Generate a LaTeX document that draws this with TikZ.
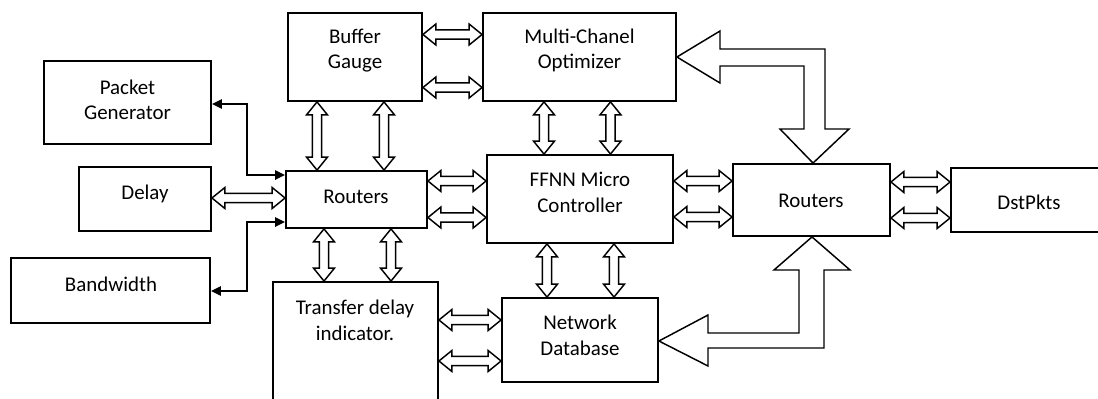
\documentclass[tikz,border=0pt]{standalone}
\usepackage{fontspec}
\setmainfont{Carlito}
\usetikzlibrary{calc,fit,arrows.meta}

% sizes of the hollow two-headed arrows
\newcommand\hdlen{9.75pt}
\newcommand\hdhalf{7.9pt}
\newcommand\shhalf{3.5pt}

\tikzset{
  box/.style={draw, line width=1.4pt, inner sep=0pt},
  lbl/.style={align=center, inner sep=0pt, font=\fontsize{15.7}{19.1}\selectfont},
  hollow/.style={draw, fill=white, line width=1.1pt, line join=miter},
  link/.style={line width=1.5pt,
    {Triangle[length=7.5pt,width=7pt]}-{Triangle[length=7.5pt,width=7pt]}},
}

% hollow block arrow with a head at both ends, from #1 to #2
\newcommand\dblarrow[2]{%
  \path #1 coordinate (da-a) #2 coordinate (da-b);
  \draw[hollow] (da-a)
    -- ($(da-a)!\hdlen!(da-b)!\hdhalf!90:(da-b)$)
    -- ($(da-a)!\hdlen!(da-b)!\shhalf!90:(da-b)$)
    -- ($(da-b)!\hdlen!(da-a)!\shhalf!-90:(da-a)$)
    -- ($(da-b)!\hdlen!(da-a)!\hdhalf!-90:(da-a)$)
    -- (da-b)
    -- ($(da-b)!\hdlen!(da-a)!\hdhalf!90:(da-a)$)
    -- ($(da-b)!\hdlen!(da-a)!\shhalf!90:(da-a)$)
    -- ($(da-a)!\hdlen!(da-b)!\shhalf!-90:(da-b)$)
    -- ($(da-a)!\hdlen!(da-b)!\hdhalf!-90:(da-b)$)
    -- cycle;}

\begin{document}
\begin{tikzpicture}[x=0.75pt, y=-0.75pt]
\useasboundingbox (0,0) rectangle (1098,399);
\clip (0,0) rectangle (1098,399);

% blocks
\node[box, fit={(44,61) (211,144)}]   (pg)   {};
\node[box, fit={(79,167) (211,231)}]  (dl)   {};
\node[box, fit={(11,258) (210,323)}]  (bw)   {};
\node[box, fit={(288,13) (422,101)}]  (bg)   {};
\node[box, fit={(483,13) (676,101)}]  (mco)  {};
\node[box, fit={(286,171) (427,228)}] (rl)   {};
\node[box, fit={(487,155) (673,243)}] (ffnn) {};
\node[box, fit={(733,164) (890,236)}] (rr)   {};
\node[box, fit={(951,168) (1115,232)}] (dst) {};
\node[box, fit={(273,282) (438,420)}] (td)   {};
\node[box, fit={(502,298) (658,382)}] (nd)   {};

% block texts
\node[lbl] (pg-t)   at (127.5,100) {Packet\\Generator};
\node[lbl] (dl-t)   at (145,194)   {Delay};
\node[lbl] (bw-t)   at (111,284)   {Bandwidth};
\node[lbl] (bg-t)   at (355,50.5)  {Buffer\\Gauge};
\node[lbl] (mco-t)  at (579.5,50.5) {Multi-Chanel\\Optimizer};
\node[lbl] (rl-t)   at (356,197)   {Routers};
\node[lbl] (ffnn-t) at (580,192.5) {FFNN Micro\\Controller};
\node[lbl] (rr-t)   at (811,201)   {Routers};
\node[lbl] (dst-t)  at (1029,202)  {DstPkts};
\node[lbl] (td-t)   at (355,320.5) {Transfer delay\\indicator.};
\node[lbl] (nd-t)   at (580,335.5) {Network\\Database};

% hollow two-headed arrows between neighbouring blocks
\dblarrow{(bg.east |- 0,34.5)}{(mco.west |- 0,34.5)}
\dblarrow{(bg.east |- 0,87.5)}{(mco.west |- 0,87.5)}
\dblarrow{(bg.south -| 317,0)}{(rl.north -| 317,0)}
\dblarrow{(bg.south -| 384,0)}{(rl.north -| 384,0)}
\dblarrow{(mco.south -| 544,0)}{(ffnn.north -| 544,0)}
\dblarrow{(mco.south -| 610.5,0)}{(ffnn.north -| 610.5,0)}
\dblarrow{(dl.east |- 0,198)}{(rl.west |- 0,198)}
\dblarrow{(rl.east |- 0,181)}{(ffnn.west |- 0,181)}
\dblarrow{(rl.east |- 0,217.5)}{(ffnn.west |- 0,217.5)}
\dblarrow{(ffnn.east |- 0,181)}{(rr.west |- 0,181)}
\dblarrow{(ffnn.east |- 0,217)}{(rr.west |- 0,217)}
\dblarrow{(rr.east |- 0,182)}{(dst.west |- 0,182)}
\dblarrow{(rr.east |- 0,218)}{(dst.west |- 0,218)}
\dblarrow{(rl.south -| 324,0)}{(td.north -| 324,0)}
\dblarrow{(rl.south -| 391,0)}{(td.north -| 391,0)}
\dblarrow{(ffnn.south -| 547,0)}{(nd.north -| 547,0)}
\dblarrow{(ffnn.south -| 614,0)}{(nd.north -| 614,0)}
\dblarrow{(td.east |- 0,320)}{(nd.west |- 0,320)}
\dblarrow{(td.east |- 0,361)}{(nd.west |- 0,361)}

% thin elbow links
\draw[link] (pg.east |- 0,104) -| (247,175) -- (rl.west |- 0,175);
\draw[link] (bw.east |- 0,291) -| (247,222) -- (rl.west |- 0,222);

% large bent block arrows
\draw[hollow] (mco.east |- 0,57) -- (720,31) -- (720,49) -- (825,49)
  -- (825,129) -- (849,129) -- (rr.north -| 813,0) -- (780,129)
  -- (804,129) -- (804,66) -- (720,66) -- (720,83) -- cycle;
\draw[hollow] (rr.south -| 812,0) -- (850,270) -- (824,270) -- (824,348)
  -- (708,348) -- (708,366) -- (nd.east |- 0,341) -- (708,315)
  -- (708,333) -- (799,333) -- (799,270) -- (774,270) -- cycle;
\end{tikzpicture}
\end{document}
